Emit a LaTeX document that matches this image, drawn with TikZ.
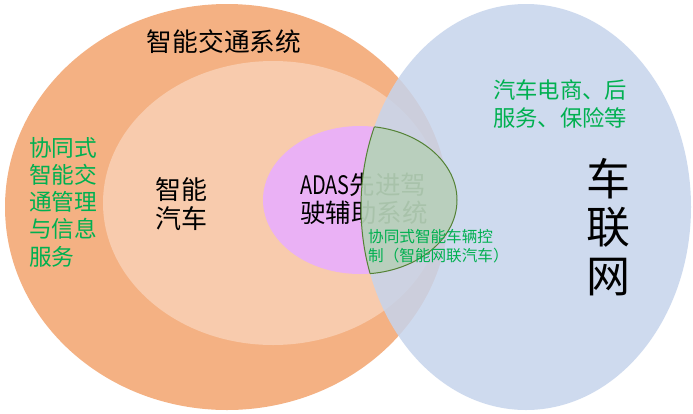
\documentclass[tikz,border=0pt]{standalone}
\usepackage{graphicx}
\usepackage{fontspec}
\setmainfont{Noto Sans CJK SC}
\definecolor{itsOrange}{RGB}{244,177,131}
\definecolor{carOrange}{RGB}{248,203,173}
\definecolor{adasPurple}{RGB}{234,177,245}
\definecolor{vnetBlue}{RGB}{198,212,236}
\definecolor{coopGreen}{RGB}{169,209,142}
\definecolor{coopLine}{RGB}{84,130,53}
\definecolor{noteGreen}{RGB}{0,176,80}
\newcommand{\fsz}[2]{\fontsize{#1}{#2}\selectfont}
\begin{document}
\begin{tikzpicture}[x=1pt, y=-1pt, every node/.style={inner sep=0pt, align=left}]
% Canvas in pixel units, y pointing down
\useasboundingbox (0,0) rectangle (693,413);
\fill[white] (0,0) rectangle (693,413);
\def\lensopacity{0.5}
\def\blueopacity{0.85}
% Intelligent transport system, intelligent car, ADAS
\fill[itsOrange] (227,207) ellipse [x radius=222pt, y radius=203pt];
\fill[carOrange] (273,203) ellipse [x radius=170pt, y radius=142pt];
\fill[adasPurple] (360,200) ellipse [x radius=97pt, y radius=74pt];
\node[anchor=west, font=\fsz{25.5}{28.5}] (adas) at (300,199) {\scalebox{0.78}[1]{ADAS}先进驾\\驶辅助系统};
% Internet of vehicles over the top
\fill[vnetBlue, fill opacity=\blueopacity] (526,207) ellipse [x radius=165pt, y radius=203pt];
% Lens: cooperative vehicle control
\begin{scope}
  \clip (526,207) ellipse [x radius=165pt, y radius=203pt];
  \fill[coopGreen, fill opacity=\lensopacity] (360,200) ellipse [x radius=97pt, y radius=74pt];
  \draw[coopLine, line width=1pt] (360,200) ellipse [x radius=97pt, y radius=74pt];
\end{scope}
\begin{scope}
  \clip (360,200) ellipse [x radius=97pt, y radius=74pt];
  \draw[coopLine, line width=1pt] (526,207) ellipse [x radius=165pt, y radius=203pt];
\end{scope}
% Labels
\node[font=\fsz{25.7}{30}] (its) at (224,42) {智能交通系统};
\node[anchor=west, text=noteGreen, font=\fsz{22.7}{27.2}] (coopits) at (29,202) {协同式\\智能交\\通管理\\与信息\\服务};
\node[align=center, font=\fsz{26}{29}] (icv) at (181,204) {智能\\汽车};
\node[anchor=west, text=noteGreen, font=\fsz{15.6}{19}] (coopctl) at (368,246) {协同式智能车辆控\\制（智能网联汽车）};
\node[anchor=west, text=noteGreen, font=\fsz{22.3}{28}] (service) at (493,104) {汽车电商、后\\服务、保险等};
\node[align=center, font=\fsz{44}{48.5}] (vnet) at (608,227) {车\\联\\网};
\end{tikzpicture}
\end{document}
